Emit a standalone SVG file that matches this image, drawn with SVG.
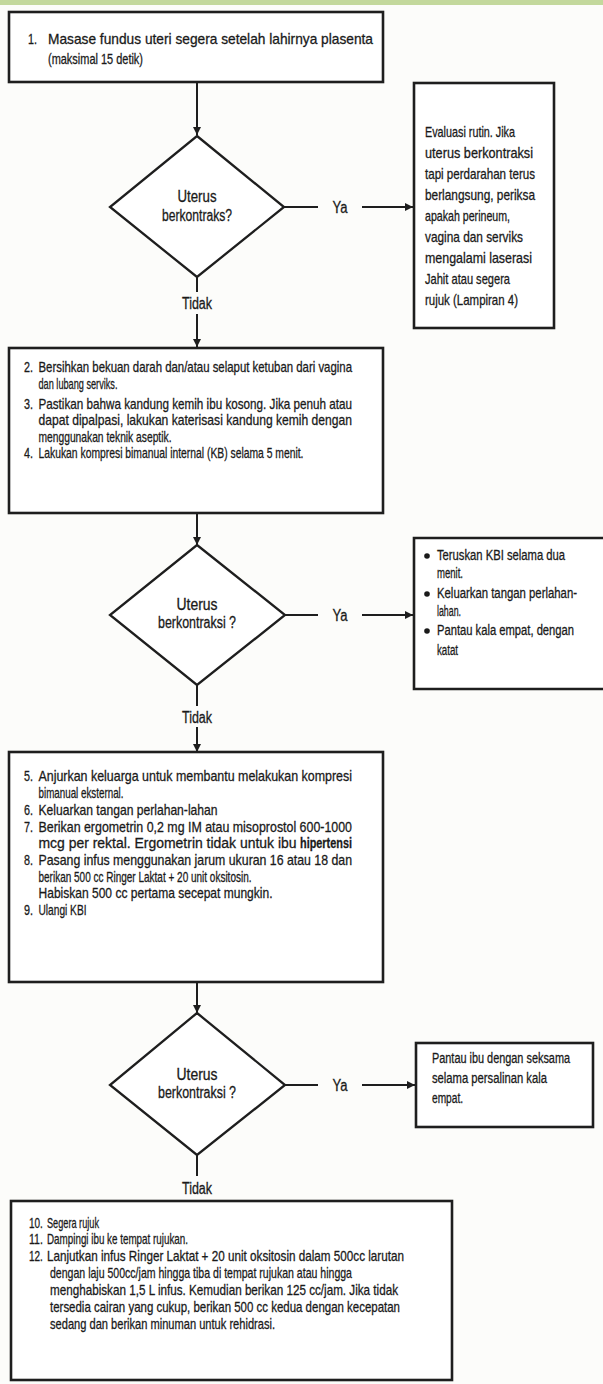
<svg xmlns="http://www.w3.org/2000/svg" width="603" height="1384" viewBox="0 0 603 1384">
<style>
.bg{fill:#fcfcfa}
.box{fill:#ffffff;stroke:#1e1e1e;stroke-width:2.6}
.dia{fill:#ffffff;stroke:#1e1e1e;stroke-width:2.3}
.con{fill:none;stroke:#1e1e1e;stroke-width:2}
.t{font-family:"Liberation Sans",Arial,sans-serif;font-size:15px;fill:#1a1a1a;stroke:#1a1a1a;stroke-width:0.3}
.c{font-family:"Liberation Sans",Arial,sans-serif;font-size:16px;fill:#1a1a1a;stroke:#1a1a1a;stroke-width:0.3;text-anchor:middle}
.b{font-weight:bold}
</style>
<defs>
<marker id="ah" viewBox="0 0 10 10" refX="10" refY="5" markerWidth="9" markerHeight="8" markerUnits="userSpaceOnUse" orient="auto">
<path d="M0,0 L10,5 L0,10 z" fill="#1e1e1e"/>
</marker>
</defs>
<rect class="bg" x="0" y="0" width="603" height="1384"/>
<rect x="0" y="0" width="603" height="5" fill="#c3d89c"/>

<g id="connectors">
<line class="con" x1="197" y1="82" x2="197" y2="135" marker-end="url(#ah)"/>
<line class="con" x1="284" y1="207" x2="318" y2="207"/>
<line class="con" x1="362" y1="207" x2="413" y2="207" marker-end="url(#ah)"/>
<line class="con" x1="197" y1="277" x2="197" y2="292"/>
<line class="con" x1="197" y1="314" x2="197" y2="347" marker-end="url(#ah)"/>
<line class="con" x1="197" y1="513" x2="197" y2="545" marker-end="url(#ah)"/>
<line class="con" x1="285" y1="615" x2="318" y2="615"/>
<line class="con" x1="362" y1="615" x2="413" y2="615" marker-end="url(#ah)"/>
<line class="con" x1="197" y1="685" x2="197" y2="706"/>
<line class="con" x1="197" y1="727" x2="197" y2="752" marker-end="url(#ah)"/>
<line class="con" x1="197" y1="982" x2="197" y2="1013" marker-end="url(#ah)"/>
<line class="con" x1="285" y1="1085" x2="318" y2="1085"/>
<line class="con" x1="362" y1="1085" x2="415" y2="1085" marker-end="url(#ah)"/>
<line class="con" x1="197" y1="1155" x2="197" y2="1176"/>
<text class="c" x="340" y="213" textLength="15" lengthAdjust="spacingAndGlyphs">Ya</text>
<text class="c" x="197" y="309" textLength="30" lengthAdjust="spacingAndGlyphs">Tidak</text>
<text class="c" x="340" y="621" textLength="15" lengthAdjust="spacingAndGlyphs">Ya</text>
<text class="c" x="197" y="723" textLength="30" lengthAdjust="spacingAndGlyphs">Tidak</text>
<text class="c" x="340" y="1091" textLength="15" lengthAdjust="spacingAndGlyphs">Ya</text>
<text class="c" x="197" y="1194" textLength="30" lengthAdjust="spacingAndGlyphs">Tidak</text>
</g>

<g id="step1">
<rect class="box" x="9" y="12" width="374" height="70"/>
<text class="t" y="44"><tspan x="28" textLength="9" lengthAdjust="spacingAndGlyphs">1.</tspan><tspan x="48" textLength="325" lengthAdjust="spacingAndGlyphs">Masase fundus uteri segera setelah lahirnya plasenta</tspan></text>
<text class="t" x="48" y="64" textLength="95" lengthAdjust="spacingAndGlyphs">(maksimal 15 detik)</text>
</g>

<g id="decision1">
<polygon class="dia" points="197,136 284,207 197,277 110,207"/>
<text class="c" x="197" y="202" textLength="39" lengthAdjust="spacingAndGlyphs">Uterus</text>
<text class="c" x="197" y="221" textLength="70" lengthAdjust="spacingAndGlyphs">berkontraks?</text>
</g>

<g id="yes1">
<rect class="box" x="414" y="83" width="140" height="245"/>
<text class="t" x="425" y="137" textLength="90" lengthAdjust="spacingAndGlyphs">Evaluasi rutin. Jika</text>
<text class="t" x="425" y="158" textLength="108" lengthAdjust="spacingAndGlyphs">uterus berkontraksi</text>
<text class="t" x="425" y="179" textLength="110" lengthAdjust="spacingAndGlyphs">tapi perdarahan terus</text>
<text class="t" x="425" y="200" textLength="110" lengthAdjust="spacingAndGlyphs">berlangsung, periksa</text>
<text class="t" x="425" y="221" textLength="85" lengthAdjust="spacingAndGlyphs">apakah perineum,</text>
<text class="t" x="425" y="242" textLength="98" lengthAdjust="spacingAndGlyphs">vagina dan serviks</text>
<text class="t" x="425" y="263" textLength="107" lengthAdjust="spacingAndGlyphs">mengalami laserasi</text>
<text class="t" x="425" y="284" textLength="85" lengthAdjust="spacingAndGlyphs">Jahit atau segera</text>
<text class="t" x="425" y="305" textLength="93" lengthAdjust="spacingAndGlyphs">rujuk (Lampiran 4)</text>
</g>

<g id="step2">
<rect class="box" x="9" y="348" width="374" height="165"/>
<text class="t" y="372"><tspan x="24" textLength="9" lengthAdjust="spacingAndGlyphs">2.</tspan><tspan x="38.5" textLength="313.5" lengthAdjust="spacingAndGlyphs">Bersihkan bekuan darah dan/atau selaput ketuban dari vagina</tspan></text>
<text class="t" x="38.5" y="389" textLength="79" lengthAdjust="spacingAndGlyphs">dan lubang serviks.</text>
<text class="t" y="409"><tspan x="24" textLength="9" lengthAdjust="spacingAndGlyphs">3.</tspan><tspan x="38.5" textLength="313.5" lengthAdjust="spacingAndGlyphs">Pastikan bahwa kandung kemih ibu kosong. Jika penuh atau</tspan></text>
<text class="t" x="38.5" y="425" textLength="313.5" lengthAdjust="spacingAndGlyphs">dapat dipalpasi, lakukan katerisasi kandung kemih dengan</text>
<text class="t" x="38.5" y="442" textLength="133" lengthAdjust="spacingAndGlyphs">menggunakan teknik aseptik.</text>
<text class="t" y="458"><tspan x="24" textLength="9" lengthAdjust="spacingAndGlyphs">4.</tspan><tspan x="38.5" textLength="265" lengthAdjust="spacingAndGlyphs">Lakukan kompresi bimanual internal (KB) selama 5 menit.</tspan></text>
</g>

<g id="decision2">
<polygon class="dia" points="197,545 285,615 197,685 110,615"/>
<text class="c" x="197" y="610" textLength="41" lengthAdjust="spacingAndGlyphs">Uterus</text>
<text class="c" x="197" y="628" textLength="78" lengthAdjust="spacingAndGlyphs">berkontraksi ?</text>
</g>

<g id="yes2">
<path class="box" d="M603,538 H414 V689 H603"/>
<circle cx="427" cy="556" r="2.8" fill="#1a1a1a"/>
<circle cx="427" cy="594" r="2.8" fill="#1a1a1a"/>
<circle cx="427" cy="631" r="2.8" fill="#1a1a1a"/>
<text class="t" transform="translate(437 560) scale(0.72 1)" textLength="177.8" lengthAdjust="spacingAndGlyphs">Teruskan KBI selama dua</text>
<text class="t" transform="translate(437 578) scale(0.72 1)" textLength="36.1" lengthAdjust="spacingAndGlyphs">menit.</text>
<text class="t" transform="translate(437 598) scale(0.72 1)" textLength="194.4" lengthAdjust="spacingAndGlyphs">Keluarkan tangan perlahan-</text>
<text class="t" transform="translate(437 616) scale(0.72 1)" textLength="33.3" lengthAdjust="spacingAndGlyphs">lahan.</text>
<text class="t" transform="translate(437 635) scale(0.72 1)" textLength="190.3" lengthAdjust="spacingAndGlyphs">Pantau kala empat, dengan</text>
<text class="t" transform="translate(437 655) scale(0.72 1)" textLength="29.2" lengthAdjust="spacingAndGlyphs">katat</text>
</g>

<g id="step3">
<rect class="box" x="9" y="752" width="374" height="230"/>
<text class="t" y="781"><tspan x="24" textLength="9" lengthAdjust="spacingAndGlyphs">5.</tspan><tspan x="38.5" textLength="313.5" lengthAdjust="spacingAndGlyphs">Anjurkan keluarga untuk membantu melakukan kompresi</tspan></text>
<text class="t" x="38.5" y="798" textLength="85" lengthAdjust="spacingAndGlyphs">bimanual eksternal.</text>
<text class="t" y="815"><tspan x="24" textLength="9" lengthAdjust="spacingAndGlyphs">6.</tspan><tspan x="38.5" textLength="179" lengthAdjust="spacingAndGlyphs">Keluarkan tangan perlahan-lahan</tspan></text>
<text class="t" y="832"><tspan x="24" textLength="9" lengthAdjust="spacingAndGlyphs">7.</tspan><tspan x="38.5" textLength="313.5" lengthAdjust="spacingAndGlyphs">Berikan ergometrin 0,2 mg IM atau misoprostol 600-1000</tspan></text>
<text class="t" transform="translate(38.5 848) scale(0.86 1)" textLength="300" lengthAdjust="spacingAndGlyphs">mcg per rektal. Ergometrin tidak untuk ibu</text>
<text class="t b" transform="translate(300 848) scale(0.68 1)" textLength="76.5" lengthAdjust="spacingAndGlyphs">hipertensi</text>
<text class="t" y="865"><tspan x="24" textLength="9" lengthAdjust="spacingAndGlyphs">8.</tspan><tspan x="38.5" textLength="313.5" lengthAdjust="spacingAndGlyphs">Pasang infus menggunakan jarum ukuran 16 atau 18 dan</tspan></text>
<text class="t" x="38.5" y="882" textLength="213" lengthAdjust="spacingAndGlyphs">berikan 500 cc Ringer Laktat + 20 unit oksitosin.</text>
<text class="t" x="38.5" y="898" textLength="234" lengthAdjust="spacingAndGlyphs">Habiskan 500 cc pertama secepat mungkin.</text>
<text class="t" y="915"><tspan x="24" textLength="9" lengthAdjust="spacingAndGlyphs">9.</tspan><tspan x="38.5" textLength="48" lengthAdjust="spacingAndGlyphs">Ulangi KBI</tspan></text>
</g>

<g id="decision3">
<polygon class="dia" points="197,1013 285,1085 197,1155 110,1085"/>
<text class="c" x="197" y="1080" textLength="41" lengthAdjust="spacingAndGlyphs">Uterus</text>
<text class="c" x="197" y="1098" textLength="78" lengthAdjust="spacingAndGlyphs">berkontraksi ?</text>
</g>

<g id="yes3">
<rect class="box" x="416" y="1043" width="177" height="84"/>
<text class="t" transform="translate(432 1063) scale(0.72 1)" textLength="191.7" lengthAdjust="spacingAndGlyphs">Pantau ibu dengan seksama</text>
<text class="t" transform="translate(432 1083) scale(0.72 1)" textLength="159.7" lengthAdjust="spacingAndGlyphs">selama persalinan kala</text>
<text class="t" transform="translate(432 1103) scale(0.72 1)" textLength="43.1" lengthAdjust="spacingAndGlyphs">empat.</text>
</g>

<g id="step4">
<rect class="box" x="11" y="1201" width="441" height="179"/>
<text class="t" transform="translate(29 1228) scale(0.66 1)" textLength="21" lengthAdjust="spacingAndGlyphs">10.</text>
<text class="t" x="47" y="1228" textLength="52" lengthAdjust="spacingAndGlyphs">Segera rujuk</text>
<text class="t" transform="translate(29 1244) scale(0.66 1)" textLength="21" lengthAdjust="spacingAndGlyphs">11.</text>
<text class="t" x="47" y="1244" textLength="141" lengthAdjust="spacingAndGlyphs">Dampingi ibu ke tempat rujukan.</text>
<text class="t" transform="translate(29 1261) scale(0.66 1)" textLength="21" lengthAdjust="spacingAndGlyphs">12.</text>
<text class="t" x="47" y="1261" textLength="357" lengthAdjust="spacingAndGlyphs">Lanjutkan infus Ringer Laktat + 20 unit oksitosin dalam 500cc larutan</text>
<text class="t" x="50" y="1278" textLength="302" lengthAdjust="spacingAndGlyphs">dengan laju 500cc/jam hingga tiba di tempat rujukan atau hingga</text>
<text class="t" x="50" y="1295" textLength="348" lengthAdjust="spacingAndGlyphs">menghabiskan 1,5 L infus. Kemudian berikan 125 cc/jam. Jika tidak</text>
<text class="t" x="50" y="1312" textLength="350" lengthAdjust="spacingAndGlyphs">tersedia cairan yang cukup, berikan 500 cc kedua dengan kecepatan</text>
<text class="t" x="50" y="1329" textLength="225" lengthAdjust="spacingAndGlyphs">sedang dan berikan minuman untuk rehidrasi.</text>
</g>
</svg>
